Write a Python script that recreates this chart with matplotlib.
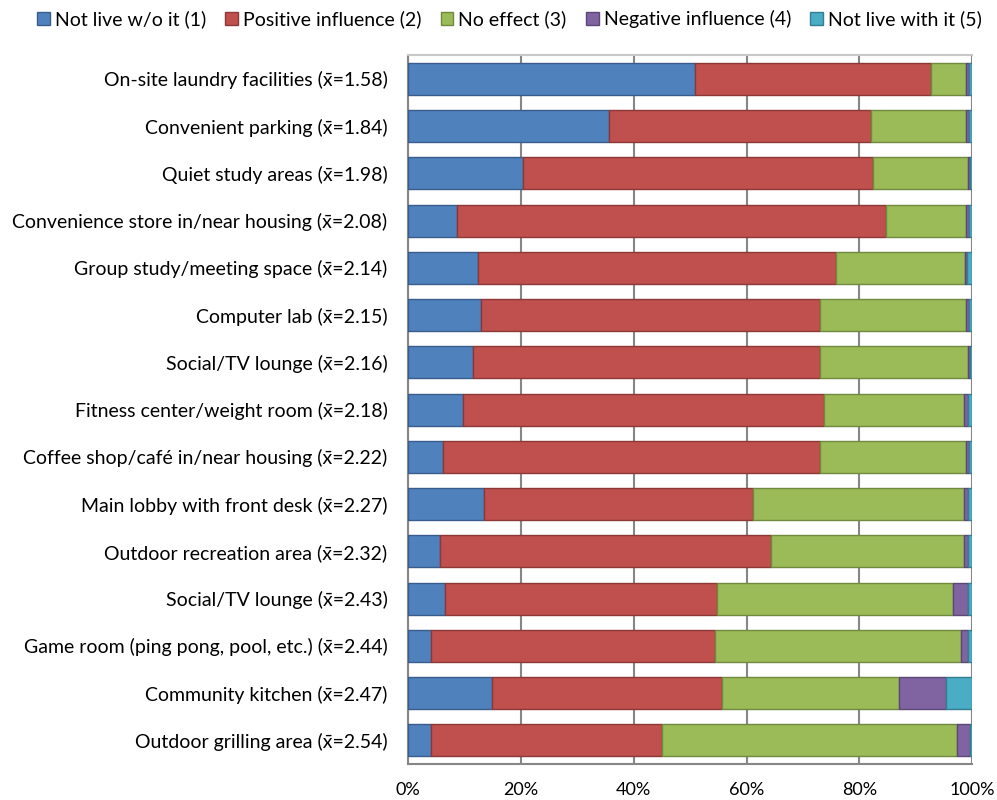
import matplotlib
matplotlib.use("Agg")
import matplotlib.pyplot as plt
import numpy as np

# amenity ratings, share of respondents per answer (percent)
amenities = [
    "On-site laundry facilities (x\u0304=1.58)",
    "Convenient parking (x\u0304=1.84)",
    "Quiet study areas (x\u0304=1.98)",
    "Convenience store in/near housing (x\u0304=2.08)",
    "Group study/meeting space (x\u0304=2.14)",
    "Computer lab (x\u0304=2.15)",
    "Social/TV lounge (x\u0304=2.16)",
    "Fitness center/weight room (x\u0304=2.18)",
    "Coffee shop/caf\u00e9 in/near housing (x\u0304=2.22)",
    "Main lobby with front desk (x\u0304=2.27)",
    "Outdoor recreation area (x\u0304=2.32)",
    "Social/TV lounge (x\u0304=2.43)",
    "Game room (ping pong, pool, etc.) (x\u0304=2.44)",
    "Community kitchen (x\u0304=2.47)",
    "Outdoor grilling area (x\u0304=2.54)",
]
not_live_without = [50.9, 35.6, 20.3, 8.7, 12.3, 12.9, 11.4, 9.7, 6.2, 13.4, 5.6, 6.5, 4.1, 14.9, 4.0]
positive = [41.9, 46.5, 62.1, 76.1, 63.6, 60.1, 61.7, 64.1, 66.9, 47.8, 58.8, 48.3, 50.3, 40.8, 41.0]
no_effect = [6.2, 16.9, 16.9, 14.2, 22.8, 25.9, 26.2, 24.8, 25.9, 37.4, 34.1, 41.9, 43.6, 31.4, 52.4]
negative = [0.5, 0.5, 0.4, 0.5, 0.4, 0.5, 0.4, 0.7, 0.4, 0.7, 0.7, 2.6, 1.3, 8.3, 2.3]
not_live_with = [0.5, 0.5, 0.3, 0.5, 0.9, 0.6, 0.3, 0.7, 0.6, 0.7, 0.8, 0.7, 0.7, 4.6, 0.3]

series_names = ["Not live w/o it (1)", "Positive influence (2)", "No effect (3)",
                "Negative influence (4)", "Not live with it (5)"]
fills = ["#4F81BD", "#C0504D", "#9BBB59", "#8064A2", "#4BACC6"]
edges = ["#385D8A", "#8C3836", "#71893F", "#5C4776", "#357D91"]

plt.rcParams['font.family'] = ['Lato', 'DejaVu Sans']

fig = plt.figure(figsize=(9.97, 8), dpi=100)
ax = fig.add_axes([0.4095, 0.045, 0.5655, 0.886])

series = [not_live_without, positive, no_effect, negative, not_live_with]
y = np.arange(len(amenities))
left = np.zeros(len(amenities))
for vals, name, fc, ec in zip(series, series_names, fills, edges):
    vals = np.array(vals)
    ax.barh(y, vals, left=left, height=0.68, color=fc, edgecolor=ec,
            linewidth=1.0, label=name, zorder=3)
    left += vals

ax.set_xlim(0, 100)
ax.set_ylim(len(amenities) - 0.5, -0.5)
ax.set_yticks(y)
ax.set_yticklabels(amenities, fontsize=14)
ax.set_xticks(np.arange(0, 101, 20))
ax.set_xticklabels([f"{v}%" for v in range(0, 101, 20)], fontsize=13)
ax.tick_params(axis='y', length=0, pad=15)
ax.tick_params(axis='x', length=0, pad=13)

ax.grid(axis='x', color='#868686', linewidth=1.5, zorder=0)
ax.set_axisbelow(True)
for side in ['left', 'bottom']:
    ax.spines[side].set_color('#868686')
    ax.spines[side].set_linewidth(1.5)
ax.spines['top'].set_color('#C8C8C8')
ax.spines['top'].set_linewidth(1.5)
ax.spines['right'].set_visible(False)

fig.legend(loc='center', bbox_to_anchor=(0.511, 0.976), ncol=5, frameon=False,
           fontsize=14, handlelength=0.65, handleheight=0.7, handletextpad=0.25,
           columnspacing=1.0, borderpad=0, borderaxespad=0)

fig.savefig("out.png", dpi=100)
